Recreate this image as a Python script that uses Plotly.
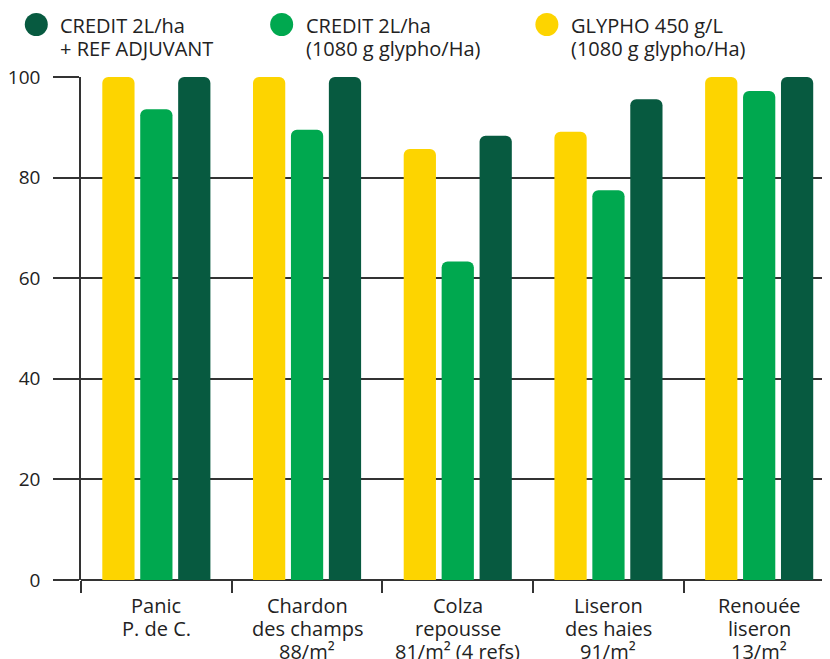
import plotly.graph_objects as go

categories = ["Panic", "Chardon", "Colza", "Liseron", "Renouée"]
category_labels = [
    ["Panic", "P. de C."],
    ["Chardon", "des champs", "88/m²"],
    ["Colza", "repousse", "81/m² (4 refs)"],
    ["Liseron", "des haies", "91/m²"],
    ["Renouée", "liseron", "13/m²"],
]
glypho = [100, 100, 85.7, 89.1, 100]
credit = [93.6, 89.5, 63.3, 77.5, 97.2]
credit_adj = [100, 100, 88.3, 95.6, 100]

series_names = ["GLYPHO 450 g/L", "CREDIT 2L/ha", "CREDIT 2L/ha + REF ADJUVANT"]
legend_lines = [
    ["CREDIT 2L/ha", "+ REF ADJUVANT"],
    ["CREDIT 2L/ha", "(1080 g glypho/Ha)"],
    ["GLYPHO 450 g/L", "(1080 g glypho/Ha)"],
]
colors = ["#FDD400", "#00A84F", "#075A40"]
legend_colors = [colors[2], colors[1], colors[0]]
y_ticks = [0, 20, 40, 60, 80, 100]

FONT = "Open Sans, Liberation Sans, Arial, sans-serif"
TXT = "#222222"
LINE = "#333333"

# page body has an 8px margin; figure sized so the plot fills to the window edge
W, H = 822, 651
L, T, B, R = 68, 69, 79, 0
PW, PH = W - L - R, H - T - B


def py(yw):
    return 1 - (yw - 8 - T) / PH


def px(xw):
    return (xw - 8 - L) / PW


fig = go.Figure()
for name, vals, col in zip(series_names, [glypho, credit, credit_adj], colors):
    fig.add_trace(go.Bar(x=categories, y=vals, name=name, marker_color=col,
                         marker_line_width=0, showlegend=False))

fig.update_layout(
    width=W, height=H,
    margin=dict(l=L, r=R, t=T, b=B, pad=0),
    paper_bgcolor="white", plot_bgcolor="white",
    barmode="group", bargap=0.245, bargroupgap=0.15, barcornerradius=6,
    font=dict(family=FONT, size=20, color=TXT),
    xaxis=dict(range=[-0.5, 4.47], tickson="boundaries", ticks="outside", ticklen=12,
               tickcolor=LINE, tickwidth=1.5, showgrid=False, showline=False,
               showticklabels=False),
    yaxis=dict(range=[0, 100], tickvals=y_ticks, ticks="outside", ticklen=26,
               tickcolor=LINE, tickwidth=1.5, showgrid=True, gridcolor=LINE, gridwidth=1.5,
               showline=True, linecolor=LINE, linewidth=1.5, zeroline=True,
               zerolinecolor=LINE, zerolinewidth=1.5, ticklabelstandoff=9,
               tickfont=dict(size=19, color=TXT)),
)

# category labels, one annotation per line
line_y = [605, 628, 651]
for cat, lines in zip(categories, category_labels):
    for i, txt in enumerate(lines):
        fig.add_annotation(xref="x", yref="paper", x=cat, y=py(line_y[i]), text=txt,
                           showarrow=False, xanchor="center", yanchor="middle",
                           font=dict(size=20, color=TXT, family=FONT))

# custom legend (order: dark, green, yellow)
circle_x = [31, 278, 545]
text_x = [53, 300, 567]
for lines, col, cx, tx in zip(legend_lines, legend_colors, circle_x, text_x):
    fig.add_shape(type="circle", xref="paper", yref="paper",
                  xsizemode="pixel", ysizemode="pixel",
                  xanchor=px(cx), yanchor=py(24.5), x0=-11.5, x1=11.5, y0=-11.5, y1=11.5,
                  fillcolor=col, line_width=0)
    for i, txt in enumerate(lines):
        fig.add_annotation(xref="paper", yref="paper", x=px(tx), y=py([26, 48][i]),
                           text=txt, showarrow=False, xanchor="left", yanchor="middle",
                           font=dict(size=20, color=TXT, family=FONT))

fig.write_html("out.html")
